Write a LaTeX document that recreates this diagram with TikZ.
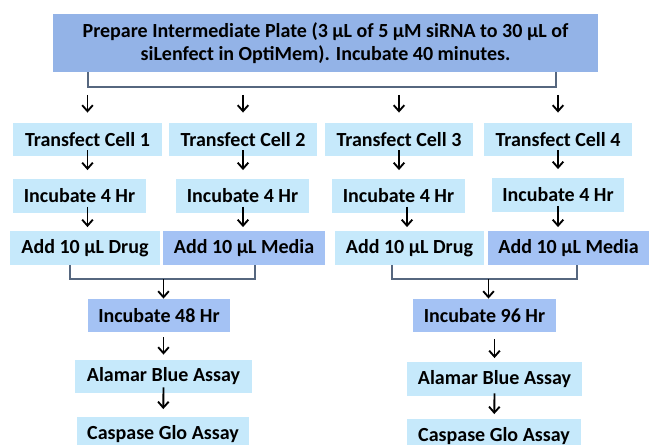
\documentclass[tikz,border=0pt]{standalone}
\usepackage{fontspec}
\setmainfont{Carlito}
\usetikzlibrary{positioning,arrows.meta}
\definecolor{topblue}{HTML}{93B3E7}
\definecolor{lightblue}{HTML}{C6E9FB}
\definecolor{midblue}{HTML}{A4C2F4}
\definecolor{slate}{HTML}{56677F}

\begin{document}
\begin{tikzpicture}[x=0.75pt, y=-0.75pt, every node/.style={font=\bfseries\fontsize{15}{17.5}\selectfont}]
\tikzstyle{box}=[fill=lightblue, inner sep=0pt, minimum height=25pt, align=center]
\tikzstyle{mediabox}=[box, fill=midblue]
\tikzstyle{arr}=[-{Straight Barb[length=4.5pt,width=8pt]}, line width=1.4pt]
\tikzstyle{bracket}=[draw=slate, line width=1.5pt]
\useasboundingbox (0,0) rectangle (649,445);
% top step
\node[box, fill=topblue, minimum width=408.75pt, minimum height=43.5pt] (top) at (325.5,43) {Prepare Intermediate Plate (3 µL of 5 µM siRNA to 30 µL of\\siLenfect in OptiMem). Incubate 40 minutes.};
% four cells
\node[box, minimum width=111.75pt] (t1) at (87.5,139.5) {Transfect Cell 1};
\node[box, minimum width=111pt] (t2) at (243,139.5) {Transfect Cell 2};
\node[box, minimum width=111pt] (t3) at (399,139.5) {Transfect Cell 3};
\node[box, minimum width=111pt] (t4) at (558,139.5) {Transfect Cell 4};
\node[box, minimum width=99.75pt] (i1) at (79.5,196) {Incubate 4 Hr};
\node[box, minimum width=99.75pt] (i2) at (242.5,196) {Incubate 4 Hr};
\node[box, minimum width=99.75pt] (i3) at (398.5,196) {Incubate 4 Hr};
\node[box, minimum width=99pt] (i4) at (558,195) {Incubate 4 Hr};
\node[box, minimum width=112.5pt] (a1) at (85,248) {Add 10 µL Drug};
\node[mediabox, minimum width=121.5pt] (a2) at (244,248) {Add 10 µL Media};
\node[box, minimum width=111.75pt] (a3) at (409.5,248) {Add 10 µL Drug};
\node[mediabox, minimum width=120.75pt] (a4) at (568.5,248) {Add 10 µL Media};
% read-out
\node[mediabox, minimum width=106.5pt] (m1) at (159,315.5) {Incubate 48 Hr};
\node[mediabox, minimum width=107.25pt] (m2) at (484.5,315.5) {Incubate 96 Hr};
\node[box, minimum width=132.75pt] (b1) at (163.5,376.5) {Alamar Blue Assay};
\node[box, minimum width=131.25pt] (b2) at (494.5,379) {Alamar Blue Assay};
\node[box, minimum width=129pt] (c1) at (163,434) {Caspase Glo Assay};
\node[box, minimum width=130.5pt] (c2) at (494,436) {Caspase Glo Assay};
% brackets
\coordinate (tl) at (88,87);
\coordinate (tr) at (556,87);
\coordinate (bl1) at (70,279);
\coordinate (br1) at (255,279);
\coordinate (bl2) at (392,279);
\coordinate (br2) at (577,279);
\draw[bracket] (tl |- top.south) -- (tl) -- (tr) -- (tr |- top.south);
\draw[bracket] (bl1 |- a1.south) -- (bl1) -- (br1) -- (br1 |- a2.south);
\draw[bracket] (bl2 |- a3.south) -- (bl2) -- (br2) -- (br2 |- a4.south);
\draw[arr, shorten <=6pt, shorten >=7.5pt] (tl -| t1) -- (t1);
\draw[arr, shorten <=6pt, shorten >=7.5pt] (tl -| t2) -- (t2);
\draw[arr, shorten <=6pt, shorten >=7.5pt] (tl -| t3) -- (t3);
\draw[arr, shorten <=6pt, shorten >=7.5pt] (tl -| t4) -- (t4);
\draw[arr] ([yshift=4.5pt]t1.south) -- ([yshift=6.75pt]t1.south |- i1.north);
\draw[arr] ([yshift=4.5pt]t2.south) -- ([yshift=6.75pt]t2.south |- i2.north);
\draw[arr] ([yshift=4.5pt]t3.south) -- ([yshift=6.75pt]t3.south |- i3.north);
\draw[arr] ([yshift=4.5pt]t4.south) -- ([yshift=6.75pt]t4.south |- i4.north);
\draw[arr] ([yshift=4.5pt]i1.south -| t1) -- ([yshift=3pt]a1.north -| t1);
\draw[arr] ([yshift=4.5pt]i2.south -| t2) -- ([yshift=3pt]a2.north -| t2);
\draw[arr] ([yshift=4.5pt,xshift=6pt]i3.south -| t3) -- ([yshift=3pt,xshift=6pt]a3.north -| t3);
\draw[arr] ([yshift=4.5pt]i4.south -| t4) -- ([yshift=3pt]a4.north -| t4);
\draw[arr] (bl1 -| b1) -- (m1.north -| b1);
\draw[arr] (bl2 -| m2) ++(4,0) -- ([xshift=3pt]m2.north);
\draw[arr, shorten <=3.75pt, shorten >=3.75pt] (m1.south -| b1) -- (b1);
\draw[arr, shorten <=5pt, shorten >=3pt] (m2.south -| b2) -- (b2);
\draw[arr, shorten >=6pt] ([yshift=4.5pt]b1.south) -- (c1);
\draw[arr, shorten >=3.75pt] ([yshift=2pt]b2.south) -- (c2);
\end{tikzpicture}
\end{document}
